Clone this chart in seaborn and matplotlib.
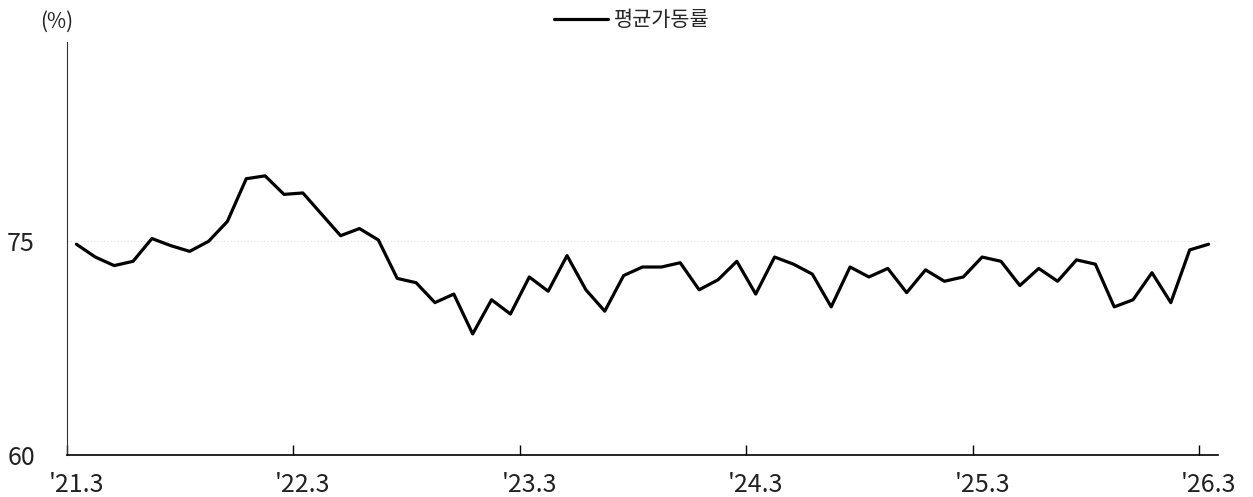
import numpy as np
import pandas as pd
import matplotlib
matplotlib.use("Agg")
import matplotlib.pyplot as plt
import seaborn as sns

# monthly series, '21.3 -> '26.3
months = [f"{y}.{m}" for y in range(21, 27) for m in range(1, 13)][2:63]
utilization = [74.8, 73.9, 73.3, 73.6, 75.2, 74.7, 74.3, 75.0, 76.4, 79.4,
               79.6, 78.3, 78.4, 76.9, 75.4, 75.9, 75.1, 72.4, 72.1, 70.7,
               71.3, 68.5, 70.9, 69.9, 72.5, 71.5, 74.0, 71.6, 70.1, 72.6,
               73.2, 73.2, 73.5, 71.6, 72.3, 73.6, 71.3, 73.9, 73.4, 72.7,
               70.4, 73.2, 72.5, 73.1, 71.4, 73.0, 72.2, 72.5, 73.9, 73.6,
               71.9, 73.1, 72.2, 73.7, 73.4, 70.4, 70.9, 72.8, 70.7, 74.4,
               74.8]
tick_labels = ["'21.3", "'22.3", "'23.3", "'24.3", "'25.3", "'26.3"]
y_ticks = [60, 75]
series_name = "평균가동률"

sns.set_theme(style="white")
plt.rcParams['font.family'] = ['Noto Sans CJK KR', 'DejaVu Sans']

df = pd.DataFrame({"month": months, "value": utilization})
df["pos"] = np.arange(len(df)) + 0.5

fig = plt.figure(figsize=(12.53, 4.97), dpi=100)
ax = fig.add_axes([67 / 1253, 42 / 497, (1218 - 67) / 1253, (455 - 42) / 497])

sns.lineplot(data=df, x="pos", y="value", color="black", linewidth=2.3,
             label=series_name, ax=ax)

ax.set_xlim(0, len(df))
ax.set_ylim(60, 89)
ax.axhline(75, color="#dddddd", linewidth=0.8, linestyle=(0, (1, 2)), zorder=0)

# ticks at the year boundaries, labels under the month points
major = [i for i, m in enumerate(months) if m.endswith(".3")]
ax.set_xticks(major)
ax.set_xticklabels([])
ax.set_xticks([p + 0.5 for p in major], minor=True)
ax.set_xticklabels(tick_labels, minor=True, fontsize=18, color="#222222")
ax.tick_params(axis="x", which="major", direction="in", length=7, width=1,
               color="black", bottom=True)
ax.tick_params(axis="x", which="minor", length=0, pad=12)
ax.set_yticks(y_ticks)
ax.set_yticklabels([str(v) for v in y_ticks], fontsize=18, color="#222222")
ax.tick_params(axis="y", length=0, pad=23)

for s in ["top", "right"]:
    ax.spines[s].set_visible(False)
ax.spines["left"].set_color("#333333")
ax.spines["left"].set_linewidth(0.8)
ax.spines["bottom"].set_color("black")
ax.spines["bottom"].set_linewidth(1.2)
ax.set_xlabel("")
ax.set_ylabel("")

fig.text(57 / 1253, 1 - 22 / 497, "(%)", fontsize=15, ha="center", va="center",
         color="#222222")

ax.legend(loc="center", bbox_to_anchor=(632 / 1253, 1 - 20 / 497),
          bbox_transform=fig.transFigure, frameon=False, fontsize=15,
          handlelength=2.6, handletextpad=0.3)

fig.savefig("out.png", dpi=100)
